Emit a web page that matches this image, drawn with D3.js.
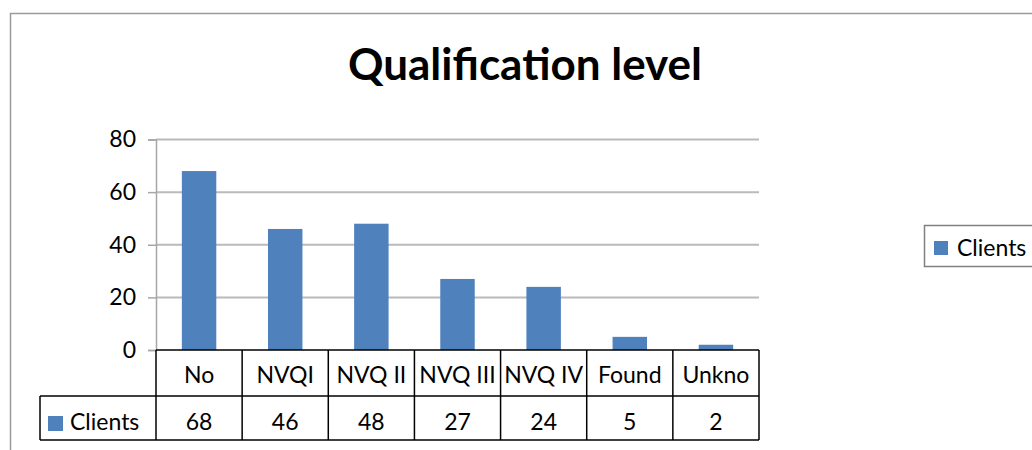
<!DOCTYPE html>
<html>
<head>
<meta charset="utf-8">
<script src="https://cdnjs.cloudflare.com/ajax/libs/d3/7.8.5/d3.min.js"></script>
<style>
  body { margin: 0; background: #fff; }
  svg { display: block; font-family: Lato, "Open Sans", sans-serif; }
</style>
</head>
<body>
<script>
// data
var categories = ["No", "NVQI", "NVQ II", "NVQ III", "NVQ IV", "Found", "Unkno"];
var clients = [68, 46, 48, 27, 24, 5, 2];
var yTicks = [0, 20, 40, 60, 80];
var seriesName = "Clients";
var title = "Qualification level";

var rows = categories.map(function (c, i) { return { cat: c, value: clients[i] }; });

var width = 1032, height = 450;
var plot = { left: 156, right: 759, top: 139.5, bottom: 350 };
var rowH = 45;
var blue = "#4f81bd";

var svg = d3.select("body").append("svg")
    .attr("width", width)
    .attr("height", height);

// outer chart frame (runs off the right and bottom)
svg.append("rect")
    .attr("x", 10.5).attr("y", 13.5)
    .attr("width", 1100).attr("height", 600)
    .attr("fill", "none")
    .attr("stroke", "#9a9a9a")
    .attr("stroke-width", 1.5);

svg.append("text")
    .attr("x", 525).attr("y", 80)
    .attr("text-anchor", "middle")
    .attr("font-weight", "bold")
    .attr("font-size", 44)
    .text(title);

var x = d3.scaleBand()
    .domain(categories)
    .range([plot.left, plot.right])
    .paddingInner(0.6)
    .paddingOuter(0.3);

var y = d3.scaleLinear()
    .domain([0, 80])
    .range([plot.bottom, plot.top]);

// gridlines
svg.append("g")
    .selectAll("line")
    .data(yTicks.filter(function (d) { return d > 0; }))
    .enter()
    .append("line")
    .attr("x1", plot.left).attr("x2", plot.right)
    .attr("y1", function (d) { return y(d); })
    .attr("y2", function (d) { return y(d); })
    .attr("stroke", "#bababa")
    .attr("stroke-width", 2);

// y axis
var yAxis = svg.append("g")
    .attr("transform", "translate(" + plot.left + ",0)")
    .call(d3.axisLeft(y).tickValues(yTicks).tickSize(8).tickPadding(12));
yAxis.select(".domain").attr("stroke", "#a6a6a6").attr("stroke-width", 1.5);
yAxis.selectAll(".tick line").attr("stroke", "#a6a6a6").attr("stroke-width", 1.5);
yAxis.selectAll(".tick text")
    .attr("font-family", "Lato, sans-serif")
    .attr("font-size", 23)
    .attr("fill", "#000");

// bars
svg.append("g")
    .selectAll("rect")
    .data(rows)
    .enter()
    .append("rect")
    .attr("x", function (d) { return x(d.cat); })
    .attr("width", x.bandwidth())
    .attr("y", function (d) { return y(d.value); })
    .attr("height", function (d) { return y(0) - y(d.value); })
    .attr("fill", blue);

// data table under the plot
var step = x.step();
var edges = categories.map(function (c) { return x(c) - step * 0.3; });
edges.push(plot.right);
var table = svg.append("g")
    .attr("stroke", "#000")
    .attr("stroke-width", 1.5);

table.append("line")
    .attr("x1", plot.left).attr("x2", plot.right)
    .attr("y1", plot.bottom).attr("y2", plot.bottom);
table.append("line")
    .attr("x1", 40).attr("x2", plot.right)
    .attr("y1", plot.bottom + rowH + 1).attr("y2", plot.bottom + rowH + 1);
table.append("line")
    .attr("x1", 40).attr("x2", plot.right)
    .attr("y1", plot.bottom + 2 * rowH).attr("y2", plot.bottom + 2 * rowH);
table.append("line")
    .attr("x1", 40).attr("x2", 40)
    .attr("y1", plot.bottom + rowH + 1).attr("y2", plot.bottom + 2 * rowH);
table.selectAll(".vline")
    .data(edges)
    .enter()
    .append("line")
    .attr("class", "vline")
    .attr("x1", function (d) { return d; })
    .attr("x2", function (d) { return d; })
    .attr("y1", plot.bottom)
    .attr("y2", plot.bottom + 2 * rowH);

svg.append("g")
    .selectAll("text")
    .data(rows)
    .enter()
    .append("text")
    .attr("x", function (d) { return x(d.cat) + x.bandwidth() / 2; })
    .attr("y", 383)
    .attr("text-anchor", "middle")
    .attr("font-size", 23)
    .text(function (d) { return d.cat; });

svg.append("g")
    .selectAll("text")
    .data(rows)
    .enter()
    .append("text")
    .attr("x", function (d) { return x(d.cat) + x.bandwidth() / 2; })
    .attr("y", 430)
    .attr("text-anchor", "middle")
    .attr("font-size", 23)
    .text(function (d) { return d.value; });

// legend key inside the table
svg.append("rect")
    .attr("x", 48).attr("y", 416)
    .attr("width", 15).attr("height", 15)
    .attr("fill", blue);
svg.append("text")
    .attr("x", 70).attr("y", 430)
    .attr("font-size", 23)
    .text(seriesName);

// legend on the right
svg.append("rect")
    .attr("x", 924.5).attr("y", 225.5)
    .attr("width", 120).attr("height", 41)
    .attr("fill", "#fff")
    .attr("stroke", "#808080")
    .attr("stroke-width", 1.5);
svg.append("rect")
    .attr("x", 934).attr("y", 241)
    .attr("width", 14).attr("height", 14)
    .attr("fill", blue);
svg.append("text")
    .attr("x", 957).attr("y", 256)
    .attr("font-size", 23)
    .text(seriesName);
</script>
</body>
</html>
